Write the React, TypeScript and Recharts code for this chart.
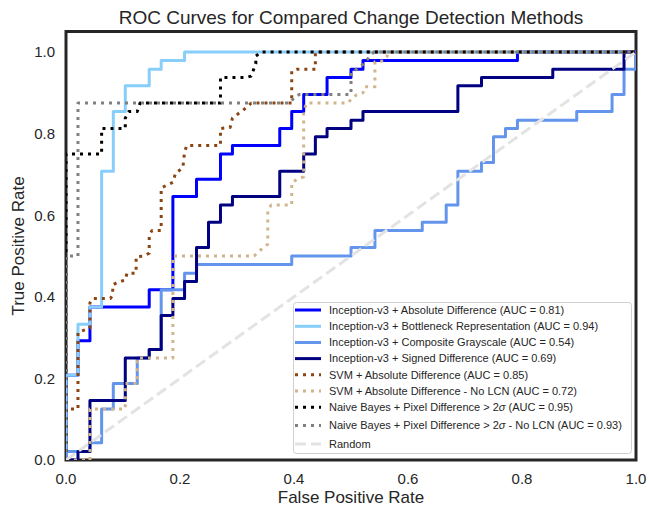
import React from 'react';
import { LineChart, Line, XAxis, YAxis, ReferenceArea } from 'recharts';

type P = [number, number];

const chartTitle = 'ROC Curves for Compared Change Detection Methods';
const xLabel = 'False Positive Rate';
const yLabel = 'True Positive Rate';
const xTicks = [0, 0.2, 0.4, 0.6, 0.8, 1.0];
const yTicks = [0, 0.2, 0.4, 0.6, 0.8, 1.0];

const incAbsolute: P[] = [
  [0, 0], [0, 0.208], [0.021, 0.208], [0.021, 0.292], [0.042, 0.292], [0.042, 0.375], [0.146, 0.375],
  [0.146, 0.417], [0.1875, 0.417], [0.1875, 0.646], [0.229, 0.646], [0.229, 0.688], [0.271, 0.688],
  [0.271, 0.75], [0.292, 0.75], [0.292, 0.771], [0.375, 0.771], [0.375, 0.8125], [0.396, 0.8125],
  [0.396, 0.854], [0.417, 0.854], [0.417, 0.896], [0.458, 0.896], [0.458, 0.9375], [0.5, 0.9375],
  [0.5, 0.958], [0.521, 0.958], [0.521, 0.979], [0.792, 0.979], [0.792, 1], [1, 1],
];

const incBottleneck: P[] = [
  [0, 0], [0, 0.208], [0.021, 0.208], [0.021, 0.333], [0.042, 0.333], [0.042, 0.375], [0.0625, 0.375],
  [0.0625, 0.708], [0.083, 0.708], [0.083, 0.854], [0.104, 0.854], [0.104, 0.917], [0.146, 0.917],
  [0.146, 0.958], [0.167, 0.958], [0.167, 0.979], [0.208, 0.979], [0.208, 1], [1, 1],
];

const incComposite: P[] = [
  [0, 0], [0, 0.021], [0.042, 0.021], [0.042, 0.042], [0.0625, 0.042], [0.0625, 0.125], [0.083, 0.125],
  [0.083, 0.1875], [0.125, 0.1875], [0.125, 0.25], [0.146, 0.25], [0.146, 0.271], [0.167, 0.271],
  [0.167, 0.417], [0.208, 0.417], [0.208, 0.458], [0.229, 0.458], [0.229, 0.479], [0.396, 0.479],
  [0.396, 0.5], [0.5, 0.5], [0.5, 0.521], [0.542, 0.521], [0.542, 0.5625], [0.625, 0.5625],
  [0.625, 0.583], [0.667, 0.583], [0.667, 0.625], [0.6875, 0.625], [0.6875, 0.708], [0.729, 0.708],
  [0.729, 0.729], [0.75, 0.729], [0.75, 0.792], [0.771, 0.792], [0.771, 0.8125], [0.792, 0.8125],
  [0.792, 0.833], [0.896, 0.833], [0.896, 0.854], [0.958, 0.854], [0.958, 0.896], [0.979, 0.896],
  [0.979, 0.958], [1, 0.958], [1, 1],
];

const incSigned: P[] = [
  [0, 0], [0.021, 0], [0.021, 0.021], [0.042, 0.021], [0.042, 0.146], [0.104, 0.146], [0.104, 0.25],
  [0.146, 0.25], [0.146, 0.271], [0.167, 0.271], [0.167, 0.354], [0.1875, 0.354], [0.1875, 0.396],
  [0.208, 0.396], [0.208, 0.4375], [0.229, 0.4375], [0.229, 0.521], [0.25, 0.521], [0.25, 0.583],
  [0.271, 0.583], [0.271, 0.625], [0.292, 0.625], [0.292, 0.646], [0.375, 0.646], [0.375, 0.708],
  [0.417, 0.708], [0.417, 0.75], [0.4375, 0.75], [0.4375, 0.792], [0.458, 0.792], [0.458, 0.8125],
  [0.5, 0.8125], [0.5, 0.833], [0.521, 0.833], [0.521, 0.854], [0.6875, 0.854], [0.6875, 0.917],
  [0.729, 0.917], [0.729, 0.9375], [0.854, 0.9375], [0.854, 0.958], [0.979, 0.958], [0.979, 1], [1, 1],
];

const svmAbsolute: P[] = [
  [0, 0], [0, 0.125], [0.021, 0.125], [0.021, 0.313], [0.042, 0.323], [0.042, 0.385], [0.047, 0.396],
  [0.078, 0.396], [0.082, 0.404], [0.082, 0.429], [0.091, 0.436], [0.104, 0.441], [0.107, 0.458],
  [0.123, 0.458], [0.123, 0.498], [0.137, 0.5], [0.146, 0.507], [0.146, 0.552], [0.151, 0.5625],
  [0.167, 0.5625], [0.167, 0.667], [0.188, 0.681], [0.192, 0.703], [0.205, 0.716], [0.208, 0.755],
  [0.212, 0.771], [0.271, 0.771], [0.271, 0.8125], [0.288, 0.815], [0.292, 0.838], [0.313, 0.86],
  [0.325, 0.875], [0.396, 0.875], [0.396, 0.953], [0.406, 0.958], [0.4375, 0.958], [0.4375, 1], [1, 1],
];

const svmNoLcn: P[] = [
  [0, 0], [0.042, 0], [0.042, 0.125], [0.104, 0.125], [0.104, 0.1875], [0.125, 0.1875], [0.125, 0.25],
  [0.1875, 0.25], [0.1875, 0.5], [0.33, 0.5], [0.346, 0.521], [0.354, 0.529], [0.354, 0.613],
  [0.36, 0.625], [0.396, 0.625], [0.396, 0.68], [0.407, 0.689], [0.417, 0.694], [0.417, 0.854],
  [0.422, 0.875], [0.495, 0.875], [0.501, 0.886], [0.51, 0.895], [0.521, 0.9], [0.524, 0.915],
  [0.542, 0.915], [0.542, 0.976], [0.557, 0.978], [0.563, 0.988], [0.565, 1], [1, 1],
];

const nbPixel: P[] = [
  [0, 0], [0, 0.75], [0.0625, 0.75], [0.0625, 0.8125], [0.104, 0.8125], [0.104, 0.838], [0.11, 0.854],
  [0.125, 0.854], [0.13, 0.875], [0.271, 0.875], [0.271, 0.9375], [0.316, 0.9375], [0.325, 0.941],
  [0.328, 0.953], [0.333, 0.971], [0.333, 0.99], [0.342, 1], [1, 1],
];

const nbPixelNoLcn: P[] = [
  [0, 0], [0, 0.5], [0.021, 0.5], [0.021, 0.875], [0.393, 0.875], [0.401, 0.89], [0.41, 0.896],
  [0.5, 0.896], [0.5, 0.95], [0.51, 0.958], [0.521, 0.97], [0.54, 1], [1, 1],
];

const randomLine: P[] = [[0, 0], [1, 1]];

const seriesNames = [
  'Inception-v3 + Absolute Difference (AUC = 0.81)',
  'Inception-v3 + Bottleneck Representation (AUC = 0.94)',
  'Inception-v3 + Composite Grayscale (AUC = 0.54)',
  'Inception-v3 + Signed Difference (AUC = 0.69)',
  'SVM + Absolute Difference (AUC = 0.85)',
  'SVM + Absolute Difference - No LCN (AUC = 0.72)',
  'Naive Bayes + Pixel Difference > 2σ (AUC = 0.95)',
  'Naive Bayes + Pixel Difference > 2σ - No LCN (AUC = 0.93)',
  'Random',
];

const seriesData: P[][] = [
  incAbsolute, incBottleneck, incComposite, incSigned, svmAbsolute, svmNoLcn, nbPixel, nbPixelNoLcn, randomLine,
];

const seriesColors = ['#0000FF', '#87CEFA', '#6495ED', '#000080', '#8B4513', '#D2B48C', '#000000', '#808080', '#E3E3E3'];
const DOT = '3 5';
const DASH = '11 5';
const seriesDash: (string | undefined)[] = [undefined, undefined, undefined, undefined, DOT, DOT, DOT, DOT, DASH];

const FONT = '"Liberation Sans", Arial, sans-serif';
const TXT = '#262626';

const toPts = (a: P[]) => a.map(([x, y]) => ({ x, y }));

function renderName(name: string) {
  const parts = name.split('σ');
  if (parts.length === 1) return name;
  return (
    <>
      {parts[0]}
      <tspan fontStyle="italic">σ</tspan>
      {parts[1]}
    </>
  );
}

export default function App() {
  const legendCenters = [310, 326.3, 342.5, 358.6, 374.7, 390.9, 407.3, 425.6, 444];
  return (
    <div style={{ position: 'fixed', left: 0, top: 0, width: 649, height: 510, background: '#fff' }}>
      <LineChart width={649} height={510} margin={{ top: 31.6, right: 13, bottom: 10, left: 16 }}>
        <XAxis
          type="number"
          dataKey="x"
          domain={[0, 1]}
          ticks={xTicks}
          tickFormatter={(v: number) => v.toFixed(1)}
          axisLine={false}
          tickLine={false}
          tickSize={0}
          tickMargin={13}
          height={40}
          allowDataOverflow
          interval={0}
          tick={{ fill: TXT, fontSize: 15, fontFamily: FONT }}
        />
        <YAxis
          type="number"
          dataKey="y"
          domain={[0, 1.05]}
          ticks={yTicks}
          tickFormatter={(v: number) => v.toFixed(1)}
          axisLine={false}
          tickLine={false}
          tickSize={0}
          tickMargin={11}
          width={50}
          allowDataOverflow
          interval={0}
          tick={{ fill: TXT, fontSize: 15, fontFamily: FONT }}
        />
        {seriesData.map((d, i) => (
          <Line
            key={seriesNames[i]}
            data={toPts(d)}
            dataKey="y"
            type="linear"
            stroke={seriesColors[i]}
            strokeWidth={3}
            strokeDasharray={seriesDash[i]}
            strokeLinecap="butt"
            strokeLinejoin="round"
            dot={false}
            activeDot={false}
            isAnimationActive={false}
          />
        ))}
        <ReferenceArea x1={0} x2={1} y1={0} y2={1.05} fill="none" stroke="#262626" strokeWidth={3} ifOverflow="visible" />
      </LineChart>
      <svg
        width={649}
        height={510}
        style={{ position: 'absolute', left: 0, top: 0, pointerEvents: 'none' }}
        fontFamily={FONT}
      >
        <text x={351} y={23.5} textAnchor="middle" fontSize={19} fill={TXT}>{chartTitle}</text>
        <text x={351} y={503} textAnchor="middle" fontSize={17} fill={TXT}>{xLabel}</text>
        <text transform="translate(24,246) rotate(-90)" textAnchor="middle" fontSize={17} fill={TXT}>{yLabel}</text>
        <rect x={293.5} y={302.5} width={338} height={151} rx={3} fill="#ffffff" fillOpacity={0.8} stroke="#d0d0d0" strokeWidth={1} />
        {seriesNames.map((n, i) => (
          <g key={n}>
            <line
              x1={295}
              x2={321}
              y1={legendCenters[i]}
              y2={legendCenters[i]}
              stroke={seriesColors[i]}
              strokeWidth={3}
              strokeDasharray={seriesDash[i]}
            />
            <text x={329} y={legendCenters[i]} dy="0.35em" fontSize={11} fill={TXT}>{renderName(n)}</text>
          </g>
        ))}
      </svg>
    </div>
  );
}
